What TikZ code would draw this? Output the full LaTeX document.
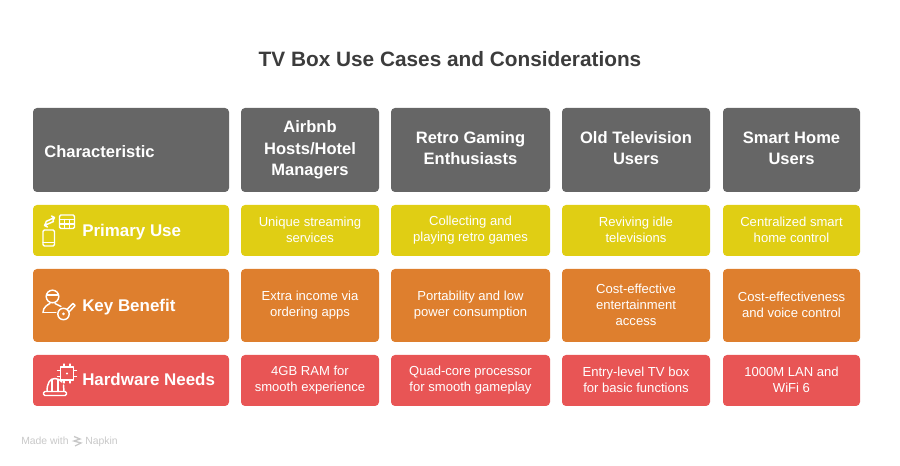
\documentclass[tikz,border=0pt]{standalone}
\usepackage{fontspec}
\setmainfont{Liberation Sans}
\definecolor{headgray}{RGB}{102,102,102}
\definecolor{useyellow}{RGB}{224,206,20}
\definecolor{benefitorange}{RGB}{222,127,46}
\definecolor{needsred}{RGB}{232,85,85}
\definecolor{titlegray}{RGB}{60,60,60}
\definecolor{footgray}{RGB}{200,200,200}
\newcommand{\cellstrut}{\rule[-\dimexpr.3\baselineskip-2.25pt\relax]{0pt}{\baselineskip}}
\tikzset{
  cell/.style={rounded corners=3pt,text=white,align=center,inner sep=0pt,font=\fontsize{9.8}{12}\selectfont,
    execute at begin node=\cellstrut,execute at end node=\cellstrut},
  headcell/.style={cell,fill=headgray,font=\bfseries\fontsize{12.4}{16}\selectfont},
  usecell/.style={cell,fill=useyellow},
  benefitcell/.style={cell,fill=benefitorange},
  needscell/.style={cell,fill=needsred},
  rowlabel/.style={text=white,inner sep=0pt,anchor=west,font=\bfseries\fontsize{12.7}{15}\selectfont,
    execute at begin node=\strut},
  footlabel/.style={text=footgray,inner sep=0pt,anchor=base west,font=\fontsize{7.8}{9}\selectfont},
  icon/.style={draw=white,line width=1.1pt,line cap=round,line join=round},
}
\begin{document}
\begin{tikzpicture}[x=0.75pt,y=-0.75pt]
    \useasboundingbox (0,0) rectangle (900,466);
    % title
    \node[text=titlegray,font=\bfseries\fontsize{15.6}{19}\selectfont] (title) at (450,59) {TV Box Use Cases and Considerations};
    % header row
    \node[headcell,minimum width=147pt,minimum height=63pt,text width=130pt,align=left] (char) at (131,150) {Characteristic};
    \node[headcell,minimum width=103.5pt,minimum height=63pt] (airbnb) at (310,150) {Airbnb\\Hosts/Hotel\\Managers};
    \node[headcell,minimum width=119.25pt,minimum height=63pt] (retro) at (470.5,150) {Retro Gaming\\Enthusiasts};
    \node[headcell,minimum width=111pt,minimum height=63pt] (old) at (636,150) {Old Television\\Users};
    \node[headcell,minimum width=102.75pt,minimum height=63pt] (smart) at (791.5,150) {Smart Home\\Users};
    % primary use row
    \node[usecell,minimum width=147pt,minimum height=38.25pt] (use) at (131,230.5) {};
    \node[usecell,minimum width=103.5pt,minimum height=38.25pt] (use1) at (310,230.5) {Unique streaming\\services};
    \node[usecell,minimum width=119.25pt,minimum height=38.25pt] (use2) at (470.5,230.5) {Collecting and\\playing retro games};
    \node[usecell,minimum width=111pt,minimum height=38.25pt] (use3) at (636,230.5) {Reviving idle\\televisions};
    \node[usecell,minimum width=102.75pt,minimum height=38.25pt] (use4) at (791.5,230.5) {Centralized smart\\home control};
    % key benefit row
    \node[benefitcell,minimum width=147pt,minimum height=54.75pt] (benefit) at (131,305.5) {};
    \node[benefitcell,minimum width=103.5pt,minimum height=54.75pt] (benefit1) at (310,305.5) {Extra income via\\ordering apps};
    \node[benefitcell,minimum width=119.25pt,minimum height=54.75pt] (benefit2) at (470.5,305.5) {Portability and low\\power consumption};
    \node[benefitcell,minimum width=111pt,minimum height=54.75pt] (benefit3) at (636,305.5) {Cost-effective\\entertainment\\access};
    \node[benefitcell,minimum width=102.75pt,minimum height=54.75pt] (benefit4) at (791.5,305.5) {Cost-effectiveness\\and voice control};
    % hardware row
    \node[needscell,minimum width=147pt,minimum height=38.25pt] (needs) at (131,380.5) {};
    \node[needscell,minimum width=103.5pt,minimum height=38.25pt] (needs1) at (310,380.5) {4GB RAM for\\smooth experience};
    \node[needscell,minimum width=119.25pt,minimum height=38.25pt] (needs2) at (470.5,380.5) {Quad-core processor\\for smooth gameplay};
    \node[needscell,minimum width=111pt,minimum height=38.25pt] (needs3) at (636,380.5) {Entry-level TV box\\for basic functions};
    \node[needscell,minimum width=102.75pt,minimum height=38.25pt] (needs4) at (791.5,380.5) {1000M LAN and\\WiFi 6};
    % row labels
    \node[rowlabel] (uselabel) at (82,232.5) {Primary Use};
    \node[rowlabel] (benefitlabel) at (82,307.5) {Key Benefit};
    \node[rowlabel] (needslabel) at (82,382) {Hardware Needs};
    % phone and table icon
    \draw[icon,rounded corners=1pt] (43,230) rectangle (54.5,246);
    \draw[icon] (43,242.5) -- (54.5,242.5);
    \draw[icon,rounded corners=1pt] (59.5,215) rectangle (74.5,228.5);
    \draw[icon,line width=0.8pt] (59.5,219.5) -- (74.5,219.5) (59.5,224) -- (74.5,224) (64.5,219.5) -- (64.5,228.5) (69.5,219.5) -- (69.5,228.5);
    \draw[icon] (46,221.5) -- (54.5,217.5) (51.5,216) -- (54.5,217.5) -- (53,220.5);
    \draw[icon] (53.5,221.5) -- (44.5,225.5) (47.5,227) -- (44.5,225.5) -- (46,222.5);
    % person and key icon
    \draw[icon] (52.5,296.5) circle (6.3);
    \draw[icon] (46.5,295) -- (58.5,295);
    \draw[icon] (43,312.5) .. controls (43,307) and (48,304.5) .. (50,303.5);
    \draw[icon] (55,303.5) -- (61,306.5);
    \draw[icon] (43,312.5) -- (56,312.5);
    \draw[icon] (63.5,314) circle (5.7);
    \fill[white] (63.5,314) circle (1.5);
    \draw[icon] (67,309.5) -- (73,303.5) -- (75,305.5) -- (69,312);
    % helmet and chip icon
    \draw[icon,rounded corners=1pt] (43.5,391.5) rectangle (66.5,395.5);
    \draw[icon] (47,391.5) .. controls (47,383) and (50,378.5) .. (55,378.5) .. controls (58,378.5) and (60,380) .. (62,382) (63.5,385) -- (64,391.5);
    \draw[icon] (52,379.5) -- (52,391.5) (58,379.5) -- (58,391.5);
    \draw[icon] (60.5,367) rectangle (73.5,380);
    \fill[white] (67,373.5) circle (1.2);
    \foreach \p in {64,70} {
        \draw[icon,line width=0.8pt] (\p,364) -- (\p,367) (\p,380) -- (\p,383);
    }
    \foreach \p in {370.5,376.5} {
        \draw[icon,line width=0.8pt] (57.5,\p) -- (60.5,\p) (73.5,\p) -- (76.5,\p);
    }
    % footer
    \node[footlabel] (made) at (21,445) {Made with};
    \node[footlabel] (napkin) at (85,445) {Napkin};
    \draw[footgray,line width=1pt] (74,436.5) -- (80,439) -- (74,441) -- (81,443) -- (75,446);
\end{tikzpicture}
\end{document}
